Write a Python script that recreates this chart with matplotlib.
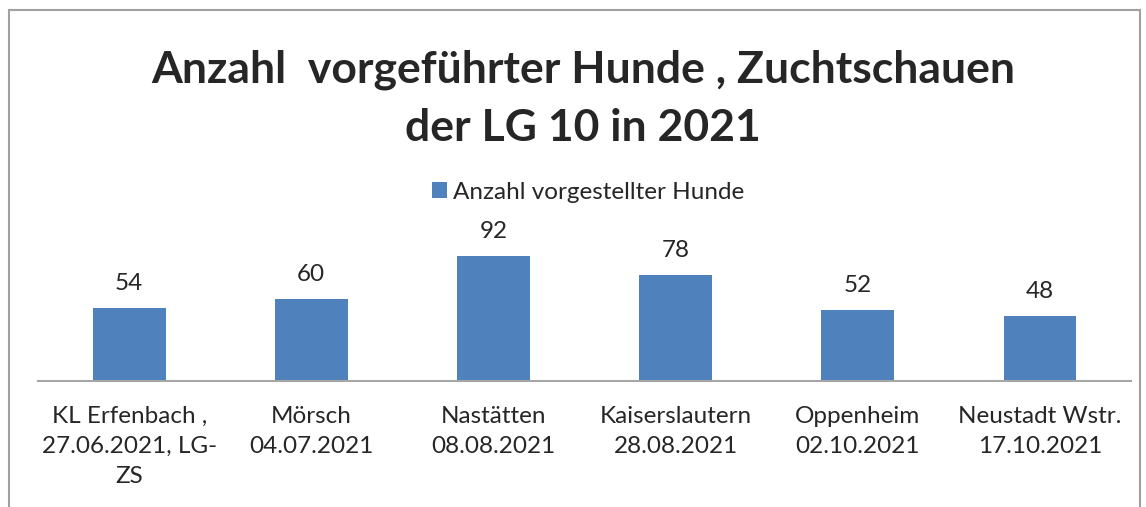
import matplotlib.pyplot as plt
from matplotlib.patches import Rectangle

plt.rcParams['font.family'] = ['Lato', 'DejaVu Sans']

categories = ["KL Erfenbach ,\n27.06.2021, LG-\nZS", "Mörsch\n04.07.2021", "Nastätten\n08.08.2021",
              "Kaiserslautern\n28.08.2021", "Oppenheim\n02.10.2021", "Neustadt Wstr.\n17.10.2021"]
values = [54, 60, 92, 78, 52, 48]
series_name = "Anzahl vorgestellter Hunde"
title = "Anzahl  vorgeführter Hunde , Zuchtschauen\nder LG 10 in 2021"

bar_color = "#4F81BD"
text_color = "#262626"

fig = plt.figure(figsize=(11.46, 5.07), dpi=100)
ax = fig.add_axes([0.0332, 0.2485, 0.9538, 0.2683])

x = range(len(values))
bars = ax.bar(x, values, width=0.4, color=bar_color, label=series_name)
for xi, v in zip(x, values):
    ax.text(xi, v + 18, str(v), ha='center', va='center', fontsize=17.5, color=text_color)

ax.set_xlim(-0.5, len(values) - 0.5)
ax.set_ylim(0, 100)
ax.set_xticks(list(x))
ax.set_xticklabels(categories, fontsize=17.5, color=text_color, linespacing=1.52)
ax.tick_params(axis='x', length=0, pad=18)
ax.set_yticks([])
for s in ['top', 'right', 'left']:
    ax.spines[s].set_visible(False)
ax.spines['bottom'].set_color('#A6A6A6')
ax.spines['bottom'].set_linewidth(1.5)

fig.text(0.509, 0.806, title, ha='center', va='center', fontsize=32, fontweight='bold',
         color=text_color, linespacing=1.55)

fig.legend(handles=[bars], labels=[series_name], loc='center', bbox_to_anchor=(0.513, 0.621),
           frameon=False, fontsize=17.5, handlelength=0.6, handleheight=0.6, handletextpad=0.25,
           labelcolor=text_color)

# chart border
fig.patches.append(Rectangle((9 / 1146, -0.1), (1140 - 9) / 1146, 1.1 - 10 / 507,
                             transform=fig.transFigure, fill=False, edgecolor='#A0A0A0', linewidth=1.5))

fig.savefig("out.png", dpi=100)
